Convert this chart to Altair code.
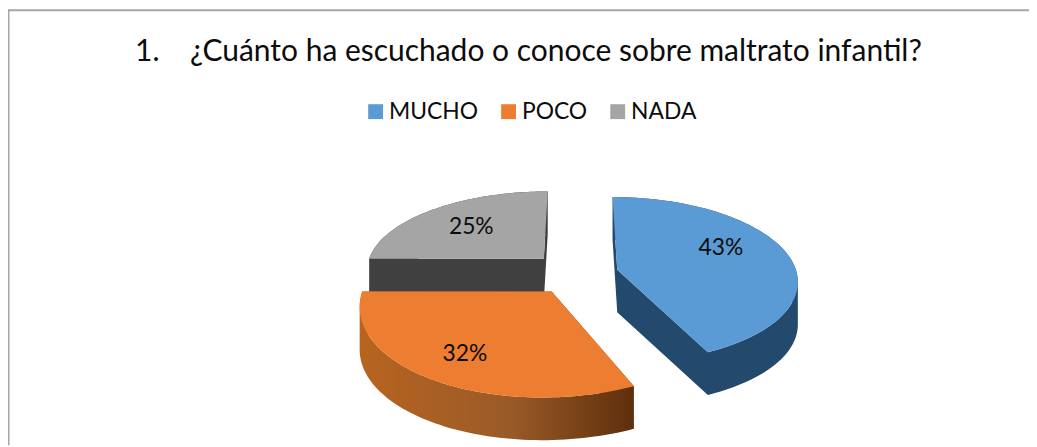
import math
import altair as alt

# --- chart values ---
categories = ["MUCHO", "POCO", "NADA"]
values = [43, 32, 25]
labels = ["43%", "32%", "25%"]
title_text = "1.\u00a0\u00a0\u00a0\u00a0¿Cuánto ha escuchado o conoce sobre maltrato infantil?"

# --- styles ---
face_colors = ["#5B9BD5", "#ED7D31", "#A5A5A5"]
FONT = "Lato"
TEXT = "#0c0c0c"
FRAME = "#a6a6a6"

# --- 3D pie layout (plot pixels): explosion centre, radii, perspective ---
W, H = 1029, 439
K = 0.12
DEPTH = 43
vanish = [570, 617, 577]
centers = [(614, 262), (548, 284), (540, 251)]
radii = [(180, 82), (191, 94), (176, 76)]
label_polar = [(66.0, 0.665), (212.4, 0.74), (315.0, 0.635)]


def project(i, theta_deg, r=1.0):
    cx, cy = centers[i]
    rx, ry = radii[i]
    t = math.radians(theta_deg)
    s = 1 / (1 + K * r * math.cos(t))
    return [vanish[i] + (cx - vanish[i] + rx * r * math.sin(t)) * s, cy - ry * r * math.cos(t) * s]


def ccw(q):
    area = sum(q[j][0] * q[(j + 1) % 4][1] - q[(j + 1) % 4][0] * q[j][1] for j in range(4))
    return q if area > 0 else q[::-1]


def slice_outline(i):
    total = sum(values)
    a0 = sum(values[:i]) / total * 360
    a1 = a0 + values[i] / total * 360
    n = 72
    arc = [project(i, a0 + (a1 - a0) * j / n) for j in range(n + 1)]
    return [list(centers[i])] + arc


def face_feature(i):
    o = slice_outline(i)
    return {
        "type": "Feature",
        "properties": {"category": categories[i]},
        "geometry": {"type": "Polygon", "coordinates": [o + [o[0]]]},
    }


def wall_feature(i):
    o = slice_outline(i)
    quads = []
    for j in range(len(o)):
        p, q = o[j], o[(j + 1) % len(o)]
        quad = ccw([p, q, [q[0], q[1] + DEPTH], [p[0], p[1] + DEPTH]])
        quads.append([quad + [quad[0]]])
    return {
        "type": "Feature",
        "properties": {"category": categories[i]},
        "geometry": {"type": "MultiPolygon", "coordinates": quads},
    }


proj = dict(type="identity", scale=1, translate=[0, 0])
color = alt.Color(
    "properties.category:N",
    scale=alt.Scale(domain=categories, range=face_colors),
    legend=alt.Legend(
        title=None,
        orient="none",
        legendX=359,
        legendY=91,
        direction="horizontal",
        symbolType="square",
        symbolSize=225,
        symbolStrokeWidth=0,
        symbolOpacity=1,
        labelFont=FONT,
        labelFontSize=23,
        labelColor=TEXT,
        labelOffset=2,
        columnPadding=19,
        padding=0,
    ),
)


def wall(i, fill):
    return (
        alt.Chart(alt.Data(values=[wall_feature(i)]))
        .mark_geoshape(fill=fill, stroke=None, strokeWidth=0)
        .project(**proj)
    )


def face(i):
    return (
        alt.Chart(alt.Data(values=[face_feature(i)]))
        .mark_geoshape(strokeWidth=0, stroke=None, opacity=1)
        .encode(color=color)
        .project(**proj)
    )


orange_wall = alt.Gradient(
    gradient="linear",
    x1=0, x2=1, y1=0, y2=0,
    stops=[
        alt.GradientStop(offset=0, color="#B8641F"),
        alt.GradientStop(offset=0.55, color="#9A5A28"),
        alt.GradientStop(offset=1, color="#5E2F0C"),
    ],
)

points = []
for i, (th, r) in enumerate(label_polar):
    x, y = project(i, th, r)
    points.append({"label": labels[i], "px": x, "py": y})

text_layer = (
    alt.Chart(alt.Data(values=points))
    .mark_text(font=FONT, fontSize=23, color=TEXT, align="center", baseline="middle")
    .encode(longitude="px:Q", latitude="py:Q", text="label:N")
    .project(**proj)
)

frame_top = alt.Chart(alt.Data(values=[{"a": 0}])).mark_rule(color=FRAME, strokeWidth=2).encode(
    x=alt.value(0), x2=alt.value(W), y=alt.value(0.5)
)
frame_left = alt.Chart(alt.Data(values=[{"a": 0}])).mark_rule(color=FRAME, strokeWidth=2).encode(
    x=alt.value(0.5), y=alt.value(0), y2=alt.value(H)
)

chart = (
    alt.layer(
        wall(2, "#404040"),
        face(2),
        wall(0, "#234A6C"),
        face(0),
        wall(1, orange_wall),
        face(1),
        text_layer,
        frame_top,
        frame_left,
    )
    .properties(
        width=W,
        height=H,
        padding=0,
        autosize=alt.AutoSizeParams(type="none"),
        title=alt.TitleParams(
            title_text,
            font=FONT,
            fontSize=30.2,
            fontWeight="normal",
            color=TEXT,
            anchor="start",
            frame="group",
            dy=63,
            dx=128,
        ),
    )
    .configure_view(stroke=None)
)

chart.save("out.html", embed_options={"renderer": "svg", "actions": False})
